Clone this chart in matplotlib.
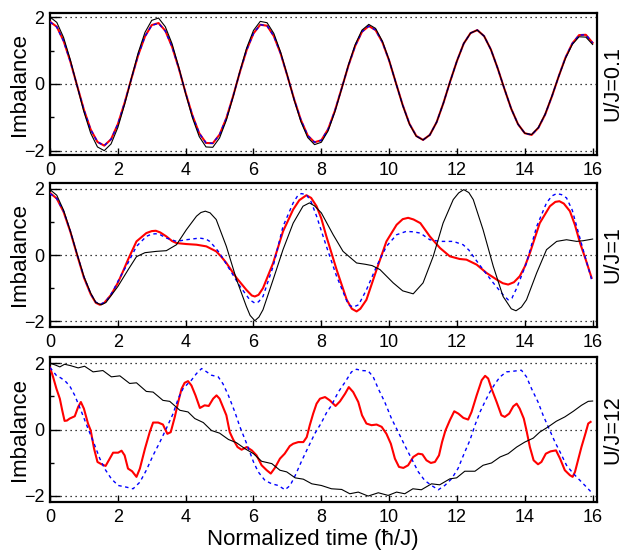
import matplotlib
matplotlib.use("Agg")
import matplotlib.pyplot as plt
import numpy as np

plt.rcParams['font.family'] = ['Liberation Sans', 'DejaVu Sans']

# ---------------- data ----------------
t_top = np.linspace(0, 16, 81)
top_black = [2.00, 1.84, 1.39, 0.72, -0.06, -0.83, -1.47, -1.88, -1.99, -1.79,
             -1.30, -0.61, 0.17, 0.93, 1.54, 1.90, 1.97, 1.71, 1.20, 0.49,
             -0.29, -1.01, -1.57, -1.88, -1.89, -1.61, -1.08, -0.38, 0.38, 1.08,
             1.60, 1.87, 1.83, 1.51, 0.95, 0.25, -0.48, -1.13, -1.60, -1.81,
             -1.74, -1.40, -0.83, -0.14, 0.57, 1.18, 1.61, 1.78, 1.66, 1.28,
             0.71, 0.03, -0.64, -1.20, -1.56, -1.67, -1.52, -1.14, -0.57, 0.08,
             0.69, 1.21, 1.52, 1.61, 1.43, 1.03, 0.47, -0.15, -0.74, -1.20,
             -1.47, -1.51, -1.30, -0.90, -0.36, 0.23, 0.77, 1.18, 1.41, 1.40, 1.18]
top_red = [1.86, 1.71, 1.29, 0.67, -0.05, -0.77, -1.36, -1.73, -1.84, -1.65,
           -1.20, -0.56, 0.16, 0.86, 1.42, 1.76, 1.82, 1.59, 1.11, 0.46,
           -0.27, -0.94, -1.47, -1.76, -1.77, -1.51, -1.02, -0.36, 0.36, 1.02,
           1.51, 1.77, 1.74, 1.43, 0.91, 0.24, -0.46, -1.08, -1.54, -1.74,
           -1.68, -1.35, -0.80, -0.13, 0.55, 1.14, 1.56, 1.73, 1.61, 1.25,
           0.70, 0.03, -0.63, -1.19, -1.55, -1.67, -1.52, -1.14, -0.57, 0.08,
           0.69, 1.21, 1.52, 1.61, 1.43, 1.03, 0.47, -0.15, -0.74, -1.20,
           -1.47, -1.52, -1.31, -0.91, -0.37, 0.23, 0.79, 1.21, 1.46, 1.47, 1.23]
top_blue = [1.85, 1.70, 1.28, 0.67, -0.05, -0.77, -1.36, -1.73, -1.84, -1.65,
            -1.20, -0.56, 0.16, 0.86, 1.42, 1.75, 1.81, 1.58, 1.11, 0.46,
            -0.27, -0.94, -1.47, -1.76, -1.77, -1.51, -1.02, -0.36, 0.36, 1.02,
            1.51, 1.77, 1.74, 1.43, 0.91, 0.24, -0.46, -1.08, -1.54, -1.74,
            -1.68, -1.35, -0.80, -0.13, 0.55, 1.14, 1.56, 1.73, 1.61, 1.25,
            0.70, 0.03, -0.63, -1.19, -1.55, -1.67, -1.52, -1.14, -0.57, 0.08,
            0.69, 1.21, 1.52, 1.61, 1.43, 1.03, 0.47, -0.15, -0.74, -1.20,
            -1.47, -1.52, -1.31, -0.91, -0.37, 0.23, 0.79, 1.21, 1.46, 1.47, 1.23]

mid_black_t = [0, 0.2, 0.4, 0.6, 0.8, 1.0, 1.2, 1.35, 1.51, 1.65, 2.0, 2.3, 2.55, 2.8,
               3.14, 3.43, 3.73, 4.02, 4.32, 4.45, 4.58, 4.72, 4.9, 5.2, 5.5, 5.79,
               5.9, 6.04, 6.16, 6.28, 6.58, 6.87, 7.17, 7.46, 7.65, 7.8, 8.0, 8.35,
               8.64, 9.04, 9.3, 9.5, 9.73, 10.12, 10.4, 10.71, 11.0, 11.3, 11.59,
               11.89, 12.05, 12.2, 12.35, 12.48, 12.77, 13.07, 13.36, 13.6, 13.74,
               13.9, 14.05, 14.35, 14.64, 14.94, 15.23, 15.53, 15.72, 16.0]
mid_black = [1.97, 1.80, 1.35, 0.72, 0.02, -0.65, -1.15, -1.43, -1.50, -1.43, -0.95,
             -0.45, -0.05, 0.07, 0.11, 0.13, 0.31, 0.76, 1.17, 1.28, 1.32, 1.27,
             1.07, 0.26, -0.74, -1.55, -1.82, -1.98, -1.87, -1.65, -0.74, 0.16,
             0.96, 1.47, 1.57, 1.48, 1.27, 0.61, 0.11, -0.24, -0.28, -0.32, -0.44,
             -0.84, -1.08, -1.17, -0.84, -0.04, 0.96, 1.67, 1.87, 1.97, 1.88, 1.67,
             0.76, -0.34, -1.25, -1.62, -1.68, -1.57, -1.35, -0.54, 0.16, 0.41,
             0.46, 0.41, 0.43, 0.48]

mid_red_t = [0, 0.2, 0.4, 0.6, 0.8, 1.0, 1.2, 1.35, 1.47, 1.6, 1.8, 2.0, 2.15, 2.3,
             2.55, 2.84, 3.0, 3.12, 3.25, 3.43, 3.6, 3.73, 4.02, 4.32, 4.61, 4.9,
             5.05, 5.2, 5.5, 5.79, 5.95, 6.04, 6.15, 6.28, 6.58, 6.87, 7.17, 7.35,
             7.56, 7.7, 7.86, 8.0, 8.15, 8.45, 8.75, 8.9, 9.04, 9.15, 9.33, 9.63,
             9.92, 10.22, 10.4, 10.56, 10.72, 10.92, 11.2, 11.5, 11.79, 12.08,
             12.28, 12.58, 12.87, 13.17, 13.35, 13.51, 13.68, 13.85, 14.0, 14.15,
             14.44, 14.74, 14.9, 15.02, 15.15, 15.33, 15.48, 15.63, 15.8, 15.97]
mid_red = [1.87, 1.70, 1.30, 0.70, 0.00, -0.68, -1.18, -1.44, -1.50, -1.44, -1.20,
           -0.84, -0.50, -0.14, 0.41, 0.66, 0.72, 0.73, 0.68, 0.56, 0.42, 0.36,
           0.33, 0.31, 0.26, 0.11, -0.05, -0.24, -0.69, -1.05, -1.22, -1.25, -1.20,
           -1.00, -0.24, 0.71, 1.37, 1.65, 1.80, 1.72, 1.47, 1.10, 0.56, -0.44,
           -1.35, -1.62, -1.70, -1.62, -1.35, -0.44, 0.41, 0.91, 1.08, 1.12, 1.07,
           0.96, 0.56, 0.21, -0.04, -0.12, -0.14, -0.29, -0.54, -0.74, -0.85,
           -0.89, -0.82, -0.64, -0.35, 0.06, 0.96, 1.47, 1.60, 1.62, 1.55, 1.32,
           0.90, 0.36, -0.15, -0.69]

mid_blue_t = [0, 0.2, 0.4, 0.6, 0.8, 1.0, 1.2, 1.35, 1.5, 1.65, 1.85, 2.05, 2.3, 2.55,
              2.84, 3.0, 3.12, 3.25, 3.43, 3.73, 4.02, 4.41, 4.6, 4.71, 4.85, 5.0,
              5.3, 5.6, 5.89, 6.04, 6.15, 6.28, 6.58, 6.87, 7.17, 7.3, 7.41, 7.56,
              7.7, 7.86, 8.15, 8.45, 8.8, 8.94, 9.1, 9.33, 9.63, 9.92, 10.22, 10.5,
              10.7, 10.92, 11.2, 11.5, 11.89, 12.18, 12.35, 12.48, 12.77, 13.07,
              13.36, 13.51, 13.62, 13.76, 14.05, 14.35, 14.64, 14.8, 14.94, 15.08,
              15.23, 15.4, 15.53, 15.75, 15.97]
mid_blue = [1.85, 1.70, 1.32, 0.72, 0.02, -0.66, -1.17, -1.42, -1.48, -1.40, -1.10,
            -0.70, -0.24, 0.26, 0.56, 0.63, 0.64, 0.61, 0.51, 0.41, 0.46, 0.51,
            0.48, 0.41, 0.25, 0.06, -0.44, -0.94, -1.35, -1.45, -1.41, -1.25,
            -0.34, 0.86, 1.57, 1.78, 1.85, 1.82, 1.60, 1.17, 0.26, -0.64, -1.50,
            -1.57, -1.50, -1.05, -0.34, 0.26, 0.61, 0.71, 0.70, 0.66, 0.46, 0.41,
            0.41, 0.31, 0.15, -0.04, -0.44, -0.84, -1.20, -1.35, -1.30, -1.00,
            -0.24, 0.86, 1.57, 1.78, 1.85, 1.82, 1.72, 1.35, 0.86, 0.05, -0.74]

bot_black_t = [0, 0.15, 0.29, 0.43, 0.6, 0.83, 1.02, 1.27, 1.56, 1.81, 2.06, 2.35,
               2.55, 2.84, 3.04, 3.33, 3.53, 3.83, 4.07, 4.27, 4.52, 4.76, 5.0, 5.26,
               5.5, 5.75, 6.0, 6.24, 6.54, 6.78, 6.98, 7.23, 7.47, 7.72, 8.0, 8.3,
               8.6, 8.84, 9.09, 9.38, 9.68, 9.97, 10.22, 10.46, 10.7, 10.95, 11.25,
               11.49, 11.79, 11.99, 12.23, 12.53, 12.77, 13.02, 13.27, 13.51, 13.76,
               14.0, 14.25, 14.44, 14.69, 14.93, 15.18, 15.43, 15.67, 15.87, 16.0]
bot_black = [2.00, 1.95, 1.89, 1.97, 1.93, 1.86, 1.91, 1.74, 1.78, 1.59, 1.62, 1.39,
             1.41, 1.15, 1.13, 0.88, 0.85, 0.58, 0.53, 0.33, 0.21, -0.03, -0.11,
             -0.30, -0.40, -0.58, -0.73, -0.96, -1.03, -1.23, -1.28, -1.46, -1.50,
             -1.64, -1.69, -1.79, -1.81, -1.94, -1.89, -2.01, -1.91, -1.99, -1.89,
             -1.94, -1.79, -1.82, -1.64, -1.67, -1.49, -1.46, -1.26, -1.26, -1.08,
             -1.01, -0.83, -0.73, -0.53, -0.38, -0.26, -0.08, 0.08, 0.25, 0.38,
             0.55, 0.73, 0.85, 0.86]

bot_red_t = [0.0, 0.09, 0.19, 0.29, 0.36, 0.43, 0.5, 0.58, 0.73, 0.83, 0.91, 1.0,
             1.12, 1.2, 1.3, 1.4, 1.52, 1.64, 1.76, 1.86, 2.01, 2.11, 2.2, 2.3,
             2.42, 2.55, 2.65, 2.8, 2.94, 3.04, 3.19, 3.33, 3.46, 3.56, 3.68, 3.78,
             3.88, 3.97, 4.07, 4.17, 4.29, 4.42, 4.56, 4.68, 4.81, 4.91, 5.0, 5.1,
             5.2, 5.3, 5.4, 5.53, 5.65, 5.8, 5.95, 6.09, 6.24, 6.39, 6.51, 6.63,
             6.78, 6.92, 7.07, 7.17, 7.32, 7.47, 7.57, 7.66, 7.76, 7.86, 7.96, 8.11,
             8.25, 8.42, 8.55, 8.7, 8.81, 8.94, 9.09, 9.2, 9.33, 9.48, 9.63, 9.78,
             9.92, 10.05, 10.17, 10.29, 10.42, 10.56, 10.71, 10.86, 10.98, 11.1,
             11.23, 11.35, 11.47, 11.56, 11.66, 11.79, 11.92, 12.04, 12.19, 12.33,
             12.43, 12.58, 12.73, 12.83, 12.92, 13.02, 13.17, 13.31, 13.41, 13.54,
             13.66, 13.76, 13.85, 13.97, 14.05, 14.15, 14.26, 14.39, 14.49, 14.62,
             14.76, 14.92, 15.04, 15.18, 15.33, 15.41, 15.48, 15.58, 15.67, 15.8,
             15.87, 15.94]
bot_red = [1.87, 1.59, 1.23, 0.93, 0.58, 0.26, 0.27, 0.33, 0.40, 0.68, 0.83, 0.63,
           0.18, -0.03, -0.58, -0.98, -1.05, -1.10, -0.88, -0.70, -0.70, -0.64,
           -0.78, -1.18, -1.26, -1.43, -1.18, -0.58, -0.08, 0.21, 0.21, 0.15, -0.13,
           -0.08, 0.38, 0.83, 1.23, 1.41, 1.46, 1.33, 1.03, 0.65, 0.73, 0.71, 0.93,
           1.03, 0.93, 0.68, 0.43, -0.08, -0.30, -0.53, -0.61, -0.53, -0.63, -0.78,
           -1.08, -1.23, -1.33, -1.16, -0.88, -0.73, -0.50, -0.43, -0.38, -0.38,
           -0.23, 0.13, 0.48, 0.78, 0.93, 0.98, 0.88, 0.71, 0.85, 1.08, 1.28, 1.13,
           0.83, 0.43, 0.18, 0.13, 0.15, 0.08, -0.13, -0.43, -0.88, -1.13, -1.16,
           -1.08, -0.83, -0.73, -0.75, -0.93, -1.01, -0.98, -0.78, -0.38, -0.03,
           0.28, 0.55, 0.48, 0.35, 0.30, 0.53, 1.03, 1.49, 1.62, 1.54, 1.23, 0.83,
           0.43, 0.38, 0.48, 0.70, 0.78, 0.63, 0.33, -0.03, -0.53, -0.93, -1.05,
           -0.98, -0.73, -0.66, -0.63, -0.88, -1.23, -1.38, -1.43, -1.28, -0.88,
           -0.53, -0.08, 0.18, 0.23]

bot_blue_t = [0.0, 0.19, 0.33, 0.48, 0.6, 0.73, 0.93, 1.12, 1.32, 1.47, 1.61, 1.81,
              2.01, 2.25, 2.45, 2.65, 2.84, 3.04, 3.24, 3.43, 3.63, 3.78, 3.92, 4.07,
              4.17, 4.32, 4.47, 4.62, 4.76, 4.96, 5.1, 5.26, 5.45, 5.6, 5.8, 6.0,
              6.14, 6.34, 6.54, 6.73, 6.93, 7.08, 7.23, 7.42, 7.62, 7.81, 8.0, 8.15,
              8.3, 8.5, 8.7, 8.89, 9.04, 9.18, 9.38, 9.53, 9.68, 9.87, 10.07, 10.27,
              10.46, 10.66, 10.86, 11.05, 11.25, 11.45, 11.64, 11.84, 12.03, 12.23,
              12.38, 12.53, 12.68, 12.82, 12.97, 13.12, 13.27, 13.46, 13.66, 13.9,
              14.05, 14.2, 14.39, 14.54, 14.69, 14.89, 15.04, 15.23, 15.43, 15.63,
              15.82, 15.94]
bot_blue = [1.87, 1.63, 1.55, 1.43, 1.28, 1.03, 0.53, 0.03, -0.48, -0.88, -1.18,
            -1.49, -1.69, -1.74, -1.79, -1.59, -1.23, -0.78, -0.38, 0.03, 0.48, 0.93,
            1.23, 1.39, 1.49, 1.69, 1.84, 1.74, 1.64, 1.59, 1.38, 1.03, 0.53, 0.08,
            -0.43, -0.98, -1.28, -1.54, -1.64, -1.69, -1.82, -1.69, -1.39, -0.95,
            -0.52, -0.12, 0.20, 0.50, 0.73, 1.13, 1.43, 1.74, 1.82, 1.78, 1.77, 1.59,
            1.23, 0.83, 0.33, -0.08, -0.48, -0.88, -1.28, -1.54, -1.69, -1.82, -1.69,
            -1.49, -1.18, -0.68, -0.33, 0.13, 0.53, 0.83, 1.13, 1.38, 1.59, 1.74,
            1.76, 1.79, 1.59, 1.23, 0.83, 0.43, 0.08, -0.38, -0.68, -1.08, -1.33,
            -1.54, -1.74, -1.87]

panel_labels = ['U/J=0.1', 'U/J=1', 'U/J=12']
x_ticks = [0, 2, 4, 6, 8, 10, 12, 14, 16]
y_ticks = [-2, 0, 2]
y_minor = [-1, 1]
grid_levels = [-2, 0, 2]

series = [
    ((t_top, top_red), (t_top, top_blue), (t_top, top_black)),
    ((mid_red_t, mid_red), (mid_blue_t, mid_blue), (mid_black_t, mid_black)),
    ((bot_red_t, bot_red), (bot_blue_t, bot_blue), (bot_black_t, bot_black)),
]

# ---------------- figure ----------------
W_PX, H_PX = 622, 552
fig = plt.figure(figsize=(W_PX / 100, H_PX / 100), dpi=100)

left = 50 / W_PX
width = 546.7 / W_PX
boxes = [(13, 155), (183.3, 326.7), (357.3, 501.7)]
ylims = [2.12, 2.16, 2.18]

for i, ((top_px, bot_px), yl) in enumerate(zip(boxes, ylims)):
    ax = fig.add_axes([left, 1 - bot_px / H_PX, width, (bot_px - top_px) / H_PX])
    (rt, rv), (bt, bv), (kt, kv) = series[i]
    for g in grid_levels:
        ax.axhline(g, color='black', lw=0.9, linestyle=(0, (1, 3)), zorder=1)
    ax.plot(rt, rv, color='#ff0000', lw=1.5, zorder=3, solid_joinstyle='round')
    ax.plot(bt, bv, color='#0000ff', lw=1.0, linestyle=(0, (2.5, 2.5)), zorder=4)
    ax.plot(kt, kv, color='black', lw=0.8, zorder=5, solid_joinstyle='round')

    ax.set_xlim(0, 16.12)
    ax.set_ylim(-yl, yl)
    ax.set_xticks(x_ticks)
    ax.set_yticks(y_ticks)
    ax.set_yticks(y_minor, minor=True)
    ax.tick_params(axis='x', direction='in', length=5, width=1.0, labelsize=13,
                   pad=5, top=False)
    ax.tick_params(axis='y', which='major', direction='in', length=7, width=1.0,
                   labelsize=13, pad=4, right=False)
    ax.tick_params(axis='y', which='minor', direction='in', length=3, width=1.0,
                   right=False)
    for s in ax.spines.values():
        s.set_linewidth(1.6)
    ax.set_ylabel('Imbalance', fontsize=16)
    ax.yaxis.set_label_coords(-0.036, 0.5)
    ax.text(1.029, 0.5, panel_labels[i], rotation=90, transform=ax.transAxes,
            fontsize=15.5, ha='center', va='center')

fig.text(312.5 / W_PX, 7 / H_PX, 'Normalized time (ħ/J)', fontsize=16,
         ha='center', va='baseline')

fig.savefig('out.png', dpi=100)
